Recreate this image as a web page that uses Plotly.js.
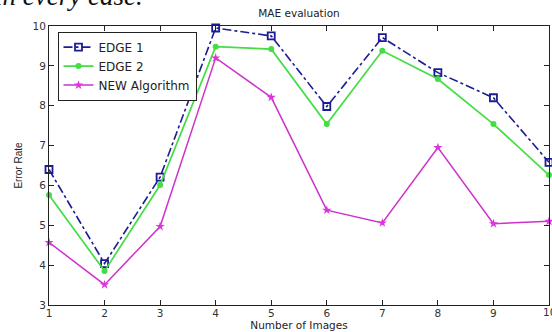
<!DOCTYPE html>
<html>
<head>
<meta charset="utf-8">
<script src="https://cdn.plot.ly/plotly-3.0.1.min.js"></script>
<style>html,body{margin:0;padding:0;background:#fff;}#chart{width:552px;height:332px;}</style>
</head>
<body>
<div id="chart"></div>
<script>
const images = [1, 2, 3, 4, 5, 6, 7, 8, 9, 10];
const edge1 = [6.40, 4.04, 6.21, 9.95, 9.75, 7.98, 9.71, 8.83, 8.20, 6.58];
const edge2 = [5.76, 3.85, 6.01, 9.48, 9.42, 7.54, 9.38, 8.67, 7.54, 6.26];
const newAlg = [4.57, 3.51, 4.97, 9.20, 8.21, 5.38, 5.06, 6.95, 5.04, 5.10];
const seriesNames = ['EDGE 1', 'EDGE 2', 'NEW Algorithm'];
const xTicks = [1, 2, 3, 4, 5, 6, 7, 8, 9];
const lastXTick = 10;
const yTicks = [3, 4, 5, 6, 7, 8, 9, 10];

const traces = [
  {x: images, y: edge1, name: seriesNames[0], type: 'scatter', mode: 'lines+markers',
   line: {color: '#1c1c94', width: 1.6, dash: 'dashdot'},
   marker: {symbol: 'square-open', size: 7, color: '#1c1c94', line: {width: 1.8}}, cliponaxis: false},
  {x: images, y: edge2, name: seriesNames[1], type: 'scatter', mode: 'lines+markers',
   line: {color: '#44dd44', width: 1.7},
   marker: {symbol: 'circle', size: 6, color: '#44dd44'}, cliponaxis: false},
  {x: images, y: newAlg, name: seriesNames[2], type: 'scatter', mode: 'lines+markers',
   line: {color: '#cc33cc', width: 1.5},
   marker: {symbol: 'star', size: 7, color: '#dd33dd'}, cliponaxis: false}
];

const tickFont = {family: 'DejaVu Sans, sans-serif', size: 10.5, color: '#333'};
const layout = {
  width: 552, height: 332,
  margin: {l: 49, r: 3, t: 26, b: 27, pad: 0},
  paper_bgcolor: '#fff', plot_bgcolor: '#fff',
  font: {family: 'Liberation Sans, Arial, sans-serif', size: 11, color: '#222'},
  showlegend: true,
  legend: {x: 0.017, y: 0.98, xanchor: 'left', yanchor: 'top',
    bordercolor: '#222', borderwidth: 1, bgcolor: '#fff',
    font: {family: 'DejaVu Sans, sans-serif', size: 12, color: '#222'},
    tracegroupgap: 0, itemwidth: 30},
  title: {text: 'MAE evaluation', x: 0.5, xref: 'paper', y: 0.96, yanchor: 'middle',
    font: {family: 'DejaVu Sans, sans-serif', size: 10.5, color: '#222'}},
  xaxis: {range: [1, 10], tickvals: xTicks.concat([lastXTick]), ticktext: xTicks.map(String).concat(['']),
    ticks: 'inside', ticklen: 5, tickcolor: '#222', ticklabelstandoff: -2,
    showline: true, linecolor: '#222', linewidth: 1, mirror: 'ticks', showgrid: false, zeroline: false,
    tickfont: tickFont,
    title: {text: 'Number of Images', standoff: 0,
      font: {family: 'DejaVu Sans, sans-serif', size: 10.5, color: '#222'}}},
  yaxis: {range: [3, 10], tickvals: yTicks, ticks: 'inside', ticklen: 5, tickcolor: '#222',
    showline: true, linecolor: '#222', linewidth: 1, mirror: 'ticks', showgrid: false, zeroline: false,
    tickfont: tickFont,
    title: {text: 'Error Rate', standoff: 8,
      font: {family: 'Liberation Sans Narrow, Liberation Sans, sans-serif', size: 10, color: '#222'}}},
  annotations: [
    {text: 'in every case.', xref: 'paper', yref: 'paper', x: -0.112, y: 1.0,
     xanchor: 'left', yanchor: 'bottom', yshift: 13, showarrow: false,
     font: {family: 'Liberation Serif, Times New Roman, serif', size: 27, color: '#111', style: 'italic'}},
    {text: String(lastXTick), xref: 'x', yref: 'paper', x: lastXTick, y: 0,
     xanchor: 'center', yanchor: 'top', yshift: 1, showarrow: false, font: tickFont}
  ]
};

Plotly.newPlot('chart', traces, layout, {displayModeBar: false, staticPlot: true});
</script>
</body>
</html>
